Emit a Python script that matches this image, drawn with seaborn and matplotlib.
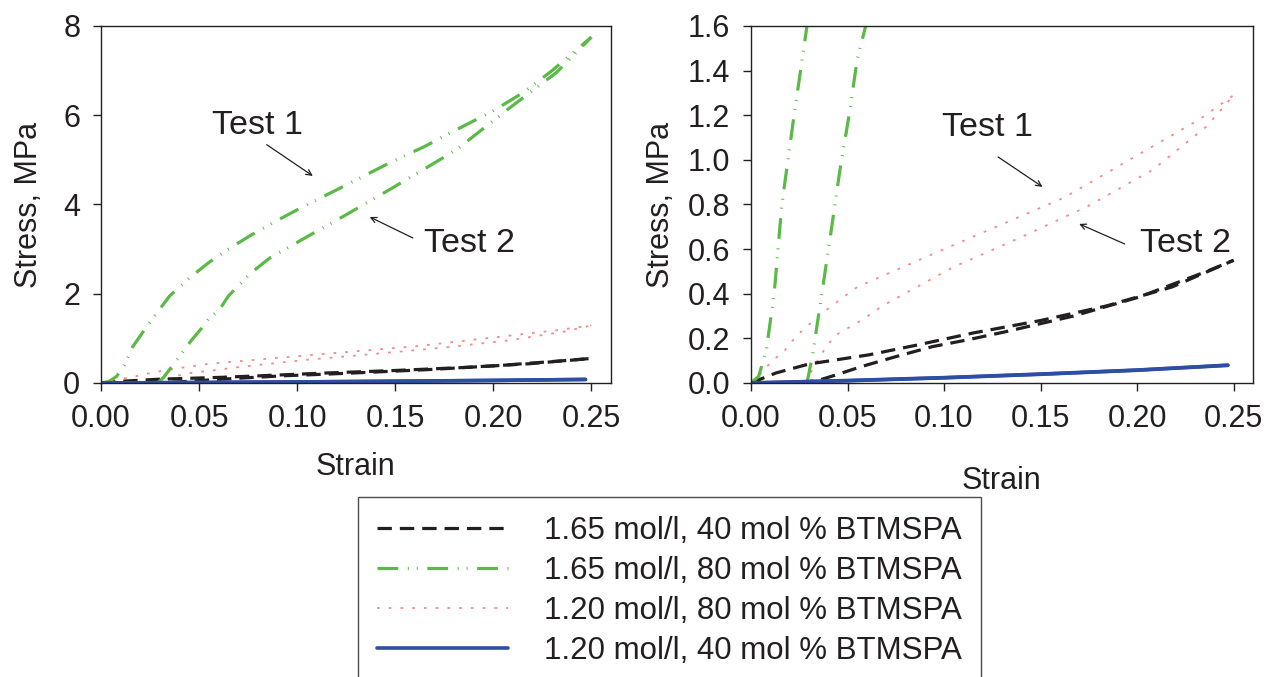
import pandas as pd
import matplotlib
matplotlib.use("Agg")
import matplotlib.pyplot as plt
import seaborn as sns

sns.set_style("ticks")
plt.rcParams['font.family'] = ['Liberation Sans', 'DejaVu Sans']

# series labels
labels = ["1.65 mol/l, 40 mol % BTMSPA", "1.65 mol/l, 80 mol % BTMSPA",
          "1.20 mol/l, 80 mol % BTMSPA", "1.20 mol/l, 40 mol % BTMSPA"]

# 1.65 mol/l, 40 mol % (black)
black_t1_x = [0, 0.013, 0.03, 0.061, 0.086, 0.115, 0.150, 0.184, 0.218, 0.25]
black_t1_y = [0, 0.045, 0.085, 0.126, 0.17, 0.224, 0.28, 0.345, 0.43, 0.55]
black_t2_x = [0.025, 0.035, 0.044, 0.057, 0.075, 0.094, 0.112, 0.132, 0.167, 0.201, 0.236, 0.25]
black_t2_y = [0, 0.012, 0.036, 0.073, 0.118, 0.163, 0.193, 0.23, 0.30, 0.385, 0.50, 0.55]

# 1.65 mol/l, 80 mol % (green)
green_t1_x = [0, 0.004, 0.008, 0.012, 0.016, 0.022, 0.029, 0.035, 0.045, 0.055, 0.065,
              0.076, 0.088, 0.1, 0.122, 0.147, 0.165, 0.181, 0.2, 0.215, 0.23, 0.25]
green_t1_y = [0, 0.03, 0.15, 0.40, 0.8, 1.18, 1.6, 1.95, 2.35, 2.7, 3.0,
              3.3, 3.6, 3.88, 4.37, 4.93, 5.3, 5.67, 6.1, 6.5, 7.0, 7.75]
green_t2_x = [0.029, 0.032, 0.036, 0.041, 0.046, 0.051, 0.055, 0.06, 0.065, 0.076, 0.086,
              0.096, 0.11, 0.123, 0.147, 0.165, 0.181, 0.207, 0.232, 0.25]
green_t2_y = [0, 0.13, 0.36, 0.65, 0.95, 1.21, 1.45, 1.62, 1.95, 2.45, 2.8,
              3.05, 3.4, 3.72, 4.33, 4.8, 5.22, 6.12, 6.95, 7.75]

# 1.20 mol/l, 80 mol % (red)
red_t1_x = [0, 0.006, 0.011, 0.017, 0.021, 0.026, 0.035, 0.044, 0.055, 0.091, 0.127,
            0.162, 0.196, 0.232, 0.25]
red_t1_y = [0, 0.05, 0.10, 0.14, 0.185, 0.23, 0.30, 0.36, 0.43, 0.566, 0.70,
            0.83, 1.0, 1.18, 1.29]
red_t2_x = [0.028, 0.033, 0.039, 0.044, 0.057, 0.069, 0.105, 0.139, 0.174, 0.208, 0.236, 0.25]
red_t2_y = [0, 0.08, 0.163, 0.215, 0.28, 0.35, 0.52, 0.65, 0.79, 0.955, 1.15, 1.29]

# 1.20 mol/l, 40 mol % (blue)
blue_t1_x = [0, 0.05, 0.1, 0.15, 0.2, 0.247]
blue_t1_y = [0, 0.011, 0.024, 0.04, 0.058, 0.08]
blue_t2_x = [0, 0.05, 0.1, 0.15, 0.2, 0.247]
blue_t2_y = [0, 0.010, 0.023, 0.039, 0.057, 0.079]

# styles: color, linewidth, dash pattern
styles = {
    labels[0]: ("#231F20", 2.3, (0, (4.5, 2.5))),
    labels[1]: ("#5BB947", 2.3, (0, (6.5, 3, 0.3, 2.5, 0.3, 3))),
    labels[2]: ("#F48A8A", 1.3, (0, (1.5, 5))),
    labels[3]: ("#2E4EA3", 2.6, "-"),
}
curves = [
    (labels[2], red_t1_x, red_t1_y), (labels[2], red_t2_x, red_t2_y),
    (labels[0], black_t1_x, black_t1_y), (labels[0], black_t2_x, black_t2_y),
    (labels[1], green_t1_x, green_t1_y), (labels[1], green_t2_x, green_t2_y),
    (labels[3], blue_t1_x, blue_t1_y), (labels[3], blue_t2_x, blue_t2_y),
]

fig = plt.figure(figsize=(12.75, 6.77), dpi=100)
ax1 = fig.add_axes([0.0792, 0.4343, 0.400, 0.5273])
ax2 = fig.add_axes([0.589, 0.4343, 0.3937, 0.5273])

handles = {}
for ax in (ax1, ax2):
    for name, xs, ys in curves:
        c, lw, ls = styles[name]
        d = pd.DataFrame({"Strain": xs, "Stress": ys})
        sns.lineplot(data=d, x="Strain", y="Stress", ax=ax, color=c, lw=lw,
                     linestyle=ls, sort=False, estimator=None)
        if name not in handles:
            handles[name] = ax.lines[-1]
    ax.set_xlim(0, 0.26)
    ax.set_xticks([0, 0.05, 0.10, 0.15, 0.20, 0.25])
    ax.set_xticklabels(["0.00", "0.05", "0.10", "0.15", "0.20", "0.25"])
    ax.tick_params(direction="out", length=6, width=1, labelsize=22, colors="#231F20", pad=9)
    for s in ax.spines.values():
        s.set_linewidth(1)
        s.set_color("#231F20")

ax1.set_ylim(0, 8)
ax1.set_yticks([0, 2, 4, 6, 8])
ax1.set_ylabel("Stress, MPa", fontsize=22, color="#231F20", labelpad=14)
ax1.set_xlabel("Strain", fontsize=22, color="#231F20", labelpad=13)

ax2.set_ylim(0, 1.6)
ax2.set_yticks([0, 0.2, 0.4, 0.6, 0.8, 1.0, 1.2, 1.4, 1.6])
ax2.set_yticklabels(["0.0", "0.2", "0.4", "0.6", "0.8", "1.0", "1.2", "1.4", "1.6"])
ax2.set_ylabel("Stress, MPa", fontsize=22, color="#231F20", labelpad=8)
ax2.set_xlabel("Strain", fontsize=22, color="#231F20", labelpad=23)

arrow = dict(arrowstyle="->", color="#231F20", lw=0.9, shrinkA=0, shrinkB=0)
ax1.annotate("", xy=(0.108, 4.64), xytext=(0.0845, 5.34), arrowprops=arrow)
ax1.text(0.080, 5.78, "Test 1", fontsize=24.5, ha="center", va="center", color="#231F20")
ax1.annotate("", xy=(0.137, 3.72), xytext=(0.159, 3.25), arrowprops=arrow)
ax1.text(0.188, 3.12, "Test 2", fontsize=24.5, ha="center", va="center", color="#231F20")

ax2.annotate("", xy=(0.151, 0.879), xytext=(0.128, 1.013), arrowprops=arrow)
ax2.text(0.1227, 1.143, "Test 1", fontsize=24.5, ha="center", va="center", color="#231F20")
ax2.annotate("", xy=(0.170, 0.713), xytext=(0.1936, 0.623), arrowprops=arrow)
ax2.text(0.225, 0.623, "Test 2", fontsize=24.5, ha="center", va="center", color="#231F20")

leg = fig.legend([handles[l] for l in labels], labels, loc="upper left",
                 bbox_to_anchor=(358 / 1275, 1 - 497 / 677), borderaxespad=0,
                 fontsize=22.5, handlelength=4.2, handletextpad=1.15, borderpad=0.6,
                 labelspacing=0.32, fancybox=False, frameon=True)
leg.get_frame().set_edgecolor("#231F20")
leg.get_frame().set_linewidth(1)
for t in leg.get_texts():
    t.set_color("#231F20")

plt.savefig("out.png", dpi=100)
